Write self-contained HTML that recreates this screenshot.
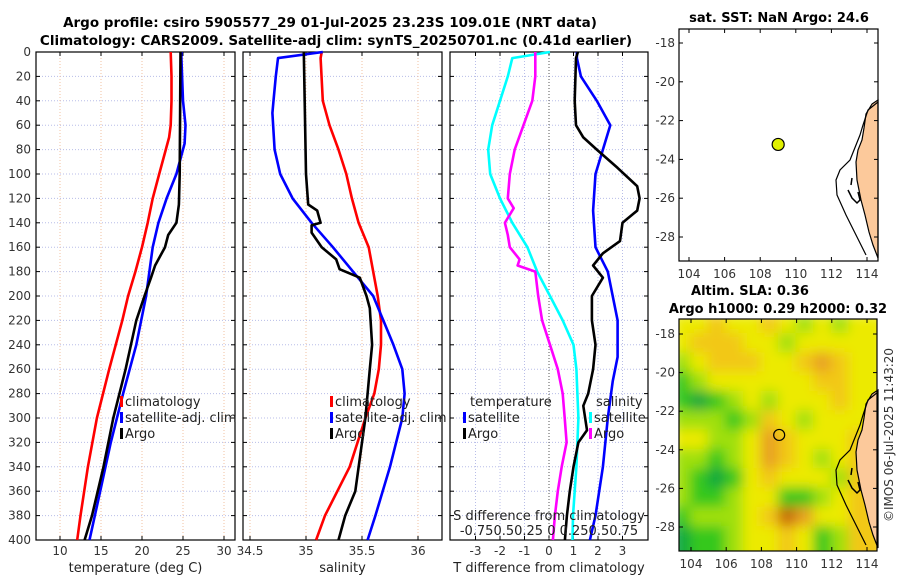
<!DOCTYPE html>
<html><head><meta charset="utf-8"><style>
body{margin:0;background:#fff;}
svg{display:block;font-family:"DejaVu Sans","Liberation Sans",sans-serif;}
</style></head><body>
<svg id="c" width="900" height="580" viewBox="0 0 900 580">
<defs>
<filter id="blur" filterUnits="userSpaceOnUse" x="660" y="300" width="240" height="270"><feGaussianBlur stdDeviation="6"/></filter>
<clipPath id="m2clip"><rect x="679" y="319" width="198" height="232"/></clipPath>
</defs>
<g font-weight="bold" font-size="13.5" text-anchor="middle" fill="#000">
<text x="330" y="27">Argo profile: csiro 5905577_29 01-Jul-2025 23.23S 109.01E (NRT data)</text>
<text x="336" y="45">Climatology: CARS2009. Satellite-adj clim: synTS_20250701.nc (0.41d earlier)</text>
</g>
<g font-weight="bold" font-size="13" text-anchor="middle" fill="#000">
<text x="779" y="22">sat. SST: NaN Argo: 24.6</text>
<text x="750" y="295">Altim. SLA: 0.36</text>
<text x="778" y="313">Argo h1000: 0.29 h2000: 0.32</text>
</g>
<g id="plots"></g>
<text x="893" y="435" font-size="12" fill="#333" text-anchor="middle" transform="rotate(-90 893 435)">©IMOS 06-Jul-2025 11:43:20</text>
</svg>
<script>
// ---- data ----
const depthTicks=[0,20,40,60,80,100,120,140,160,180,200,220,240,260,280,300,320,340,360,380,400];
const tempTicks=[10,15,20,25,30];
const salTicks=[34.5,35,35.5,36];
const tdiffTicks=[-3,-2,-1,0,1,2,3];
const lonTicks=[104,106,108,110,112,114];
const latTicks=[-18,-20,-22,-24,-26,-28];

const tClimD=[0,20,40,60,70,80,100,120,140,160,180,200,220,260,300,340,380,400];
const tClimV=[23.5,23.6,23.6,23.5,23.3,22.9,22.1,21.3,20.7,20.0,19.2,18.3,17.6,16.0,14.5,13.4,12.5,12.1];
const tSatD=[0,5,40,60,75,100,120,140,160,180,200,240,280,320,360,400];
const tSatV=[24.8,24.8,25.0,25.3,25.2,24.2,23.0,22.0,21.3,20.9,20.5,19.3,17.7,16.2,14.9,13.6];
const tArgoD=[0,100,125,140,150,160,175,185,200,220,260,300,340,380,400];
const tArgoV=[24.7,24.6,24.5,24.2,23.2,22.8,21.6,21.1,20.3,19.3,18.0,16.5,15.3,13.9,13.0];

const sClimD=[0,5,40,60,80,100,120,140,160,180,200,220,240,260,280,300,340,380,400];
const sClimV=[35.14,35.13,35.15,35.21,35.29,35.36,35.41,35.47,35.56,35.6,35.64,35.67,35.67,35.65,35.61,35.53,35.39,35.17,35.09];
const sSatD=[0,5,20,40,50,80,100,120,140,160,180,200,220,240,260,280,300,340,380,400];
const sSatV=[35.15,34.75,34.73,34.71,34.70,34.72,34.77,34.88,35.05,35.24,35.42,35.6,35.69,35.78,35.86,35.88,35.86,35.75,35.62,35.55];
const sArgoD=[0,100,125,130,140,142,148,160,170,178,185,200,210,240,260,300,320,360,380,400];
const sArgoV=[34.98,35.0,35.02,35.1,35.13,35.05,35.05,35.14,35.27,35.3,35.48,35.54,35.57,35.59,35.57,35.53,35.5,35.44,35.35,35.29];

const dTArgoD=[0,5,40,60,70,80,95,110,120,130,140,155,165,175,185,200,220,240,260,280,290,310,320,340,360,380,400];
const dTArgoV=[1.18,1.1,1.05,1.1,1.4,1.95,2.8,3.6,3.7,3.6,3.0,2.9,2.2,1.8,2.2,1.75,1.75,1.9,1.8,1.6,1.4,1.55,1.2,1.0,0.85,0.73,0.65];
const dTSatD=[0,5,20,40,60,80,100,130,160,180,200,220,250,270,300,340,380,400];
const dTSatV=[1.14,1.14,1.3,1.95,2.5,2.2,1.9,1.8,1.9,2.4,2.6,2.8,2.8,2.6,2.4,2.2,1.9,1.67];
const dSSatD=[0,5,20,40,60,80,100,120,140,160,180,200,220,240,260,300,340,380,400];
const dSSatV=[0.01,-0.375,-0.42,-0.5,-0.58,-0.62,-0.6,-0.5,-0.375,-0.22,-0.12,0.01,0.14,0.25,0.28,0.3,0.28,0.245,0.24];
const dSArgoD=[0,20,40,60,80,100,120,128,140,150,160,170,175,180,200,220,240,260,280,300,320,340,360,380,400];
const dSArgoV=[-0.14,-0.14,-0.17,-0.26,-0.35,-0.4,-0.42,-0.36,-0.45,-0.42,-0.4,-0.3,-0.32,-0.14,-0.11,-0.07,0.01,0.09,0.14,0.16,0.18,0.13,0.09,0.06,0.04];

const floatLon=109.01, floatLat=-23.23;
const slaLats=[-17.5,-18.5,-19.5,-20.5,-21.5,-22.5,-23.5,-24.5,-25.5,-26.5,-27.5,-28.5,-29.5];
const slaLons=[103.5,104.5,105.5,106.5,107.5,108.5,109.5,110.5,111.5,112.5,113.5,114.5];
const slaGrid=[
[3,3,4,3,3,4,3,2,3,2,3,3],
[3,4,4,4,3,3,2,3,3,3,3,3],
[2,3,4,4,4,3,3,4,5,4,3,3],
[1,2,3,3,3,3,3,3,4,4,3,3],
[1,0,1,2,3,2,3,3,3,4,3,3],
[2,2,2,1,2,4,3,2,3,3,3,3],
[3,3,2,2,3,5,4,3,3,3,4,4],
[2,2,1,2,3,5,4,3,2,3,4,4],
[2,1,0,1,3,4,3,3,3,2,4,4],
[2,1,1,2,3,3,1,1,2,3,4,4],
[1,2,2,2,3,4,6,5,3,3,4,4],
[0,1,1,2,3,3,4,3,1,2,4,4],
[0,1,1,2,3,3,4,3,1,2,4,4]];

// ---- drawing ----
const NS="http://www.w3.org/2000/svg";
const root=document.getElementById('plots');
function mk(tag,attrs,parent){const e=document.createElementNS(NS,tag);for(const k in attrs)e.setAttribute(k,attrs[k]);(parent||root).appendChild(e);return e;}
const PY0=52,PY1=540;
const yD=d=>PY0+(PY1-PY0)*d/400;

function panel(name,x0,x1,xScale,ticks,tickLab,xlabel,gridCol){
  const g=mk('g',{});
  
  
  depthTicks.forEach(d=>{mk('line',{x1:x0,x2:x1,y1:yD(d),y2:yD(d),stroke:'#b8bde8','stroke-width':1,'stroke-dasharray':'1,2'},g);
    mk('line',{x1:x0,x2:x0+4,y1:yD(d),y2:yD(d),stroke:'#000'},g);mk('line',{x1:x1-4,x2:x1,y1:yD(d),y2:yD(d),stroke:'#000'},g);});
  ticks.forEach((t,i)=>{const x=xScale(t);
    mk('line',{x1:x,x2:x,y1:PY0,y2:PY1,stroke:gridCol,'stroke-width':1,'stroke-dasharray':'1,2'},g);
    mk('line',{x1:x,x2:x,y1:PY1-4,y2:PY1,stroke:'#000'},g);mk('line',{x1:x,x2:x,y1:PY0,y2:PY0+4,stroke:'#000'},g);
    const t1=mk('text',{x:x,y:555,'font-size':12,'text-anchor':'middle',fill:'#333'},g);t1.textContent=tickLab[i];
    
    });
  mk('rect',{x:x0,y:PY0,width:x1-x0,height:PY1-PY0,fill:'none',stroke:'#000','stroke-width':1.2},g);
  const xl=mk('text',{x:(x0+x1)/2,y:572,'font-size':13,'text-anchor':'middle',fill:'#222'},g);xl.textContent=xlabel;
  
  
  return g;
}
function line(g,D,V,xs,col,name){
  const pts=D.map((d,i)=>xs(V[i]).toFixed(1)+','+yD(d).toFixed(1)).join(' ');
  const p=mk('polyline',{points:pts,fill:'none',stroke:col,'stroke-width':2.6,'stroke-linejoin':'round'},g);
  
  
}
function legend(g,x,y,col,label){
  if(col)mk('rect',{x:x,y:y-10,width:3,height:11,fill:col},g);
  const t=mk('text',{x:x+5,y:y,'font-size':13,fill:'#222'},g);t.textContent=label;
  
  
}

// Panel 1 temperature
const xT=t=>60+(t-10)*8.2;
const p1=panel('temperature-panel',36,235,xT,tempTicks,tempTicks.map(String),'temperature (deg C)','#f0c0a0');
depthTicks.forEach(d=>{const t=mk('text',{x:31,y:yD(d)+4,'font-size':12,'text-anchor':'end',fill:'#333'},p1);t.textContent=d;
  
  });
line(p1,tClimD,tClimV,xT,'#ff0000','temp-climatology-line');
line(p1,tSatD,tSatV,xT,'#0000ff','temp-satellite-line');
line(p1,tArgoD,tArgoV,xT,'#000','temp-argo-line');
legend(p1,120,406,'#ff0000','climatology');legend(p1,120,422,'#0000ff','satellite-adj. clim');legend(p1,120,438,'#000','Argo');

// Panel 2 salinity
const xS=s=>306+(s-35)*112;
const p2=panel('salinity-panel',243,442,xS,salTicks,salTicks.map(String),'salinity','#f0c0a0');
line(p2,sClimD,sClimV,xS,'#ff0000','sal-climatology-line');
line(p2,sSatD,sSatV,xS,'#0000ff','sal-satellite-line');
line(p2,sArgoD,sArgoV,xS,'#000','sal-argo-line');
legend(p2,330,406,'#ff0000','climatology');legend(p2,330,422,'#0000ff','satellite-adj. clim');legend(p2,330,438,'#000','Argo');

// Panel 3 differences
const xDT=t=>549+24.5*t;
const xDS=s=>549+98*s;
const p3=panel('difference-panel',450,648,xDT,tdiffTicks,tdiffTicks.map(String),'T difference from climatology','#b8bde8');
mk('line',{x1:549,x2:549,y1:PY0,y2:PY1,stroke:'#555','stroke-dasharray':'1,2'},p3);
line(p3,dSSatD,dSSatV,xDS,'#00ffff','sdiff-satellite-line');
line(p3,dSArgoD,dSArgoV,xDS,'#ff00ff','sdiff-argo-line');
line(p3,dTSatD,dTSatV,xDT,'#0000ff','tdiff-satellite-line');
line(p3,dTArgoD,dTArgoV,xDT,'#000','tdiff-argo-line');
legend(p3,465,406,null,'temperature');legend(p3,463,422,'#0000ff','satellite');legend(p3,463,438,'#000','Argo');
legend(p3,591,406,null,'salinity');legend(p3,589,422,'#00ffff','satellite');legend(p3,589,438,'#ff00ff','Argo');
{const t=mk('text',{x:549,y:520,'font-size':13,'text-anchor':'middle',fill:'#222'},p3);t.textContent='S difference from climatology';
 
 const t2=mk('text',{x:549,y:535,'font-size':13,'text-anchor':'middle',fill:'#222'},p3);t2.textContent='-0.750.50.25 0 0.250.50.75';
 }

// Maps
function map(name,x0,y0,w,h,lon,lat,heat){
  const g=mk('g',{});
  
  
  if(heat){
    const cols=['#10a83c','#34c81c','#a0e010','#ecea00','#f2c818','#e8a020','#c86a10'];
    const hg=mk('g',{'clip-path':'url(#m2clip)'},g);
    const hb=mk('g',{filter:'url(#blur)'},hg);
    
    
    slaLats.forEach((la,i)=>slaLons.forEach((lo,j)=>{
      const c=mk('rect',{x:lon(lo-0.5)-1,y:lat(la+0.5)-1,width:lon(1)-lon(0)+2,height:lat(-1)-lat(0)+2,fill:cols[slaGrid[i][j]]},hb);
      
      
    }));
  }
  const dy=y0-29;
  const land=[[878,100],[872,104],[866,114],[864,128],[862,140],[858,150],[856,162],[857,180],[861,200],[865,215],[869,232],[873,245],[878,258]];
  mk('polygon',{points:land.map(p=>p[0]+','+(p[1]+dy)).join(' '),fill:'#fcc99b',stroke:'#000','stroke-width':1.2},g);
  const shelf=[[878,102],[868,110],[863,125],[860,135],[850,160],[840,170],[836,180],[837,195],[846,215],[856,235],[866,255]];
  mk('polyline',{points:shelf.map(p=>p[0]+','+(p[1]+dy)).join(' '),fill:'none',stroke:'#000','stroke-width':1.2},g);
  mk('path',{d:`M848 ${190+dy} l4 8 l5 5 l3 -3 l-2 -8 M852 ${178+dy} l-1 7`,fill:'none',stroke:'#000','stroke-width':1.5},g);
  mk('rect',{x:x0,y:y0,width:w,height:h,fill:'none',stroke:'#000','stroke-width':1.2},g);
  lonTicks.forEach(v=>{const x=lon(v);mk('line',{x1:x,x2:x,y1:y0+h-4,y2:y0+h,stroke:'#000'},g);mk('line',{x1:x,x2:x,y1:y0,y2:y0+4,stroke:'#000'},g);
    const t=mk('text',{x:x,y:y0+h+17,'font-size':12,'text-anchor':'middle',fill:'#333'},g);t.textContent=v;
    });
  latTicks.forEach(v=>{const y=lat(v);mk('line',{x1:x0,x2:x0+4,y1:y,y2:y,stroke:'#000'},g);mk('line',{x1:x0+w-4,x2:x0+w,y1:y,y2:y,stroke:'#000'},g);
    const t=mk('text',{x:x0-4,y:y+4,'font-size':12,'text-anchor':'end',fill:'#333'},g);t.textContent=v;
    });
  const pt=mk('circle',{cx:lon(floatLon),cy:lat(floatLat),r:heat?5.5:6,fill:heat?'none':'#e0f000',stroke:'#000','stroke-width':1.2},g);
  
  
}
map('sst-map',679,29,199,232,v=>689+(v-104)*17.8,v=>43+(-18-v)*19.4,false);
map('sla-map',679,319,198,232,v=>691+(v-104)*17.6,v=>334+(-18-v)*19.3,true);
</script>
</body></html>
